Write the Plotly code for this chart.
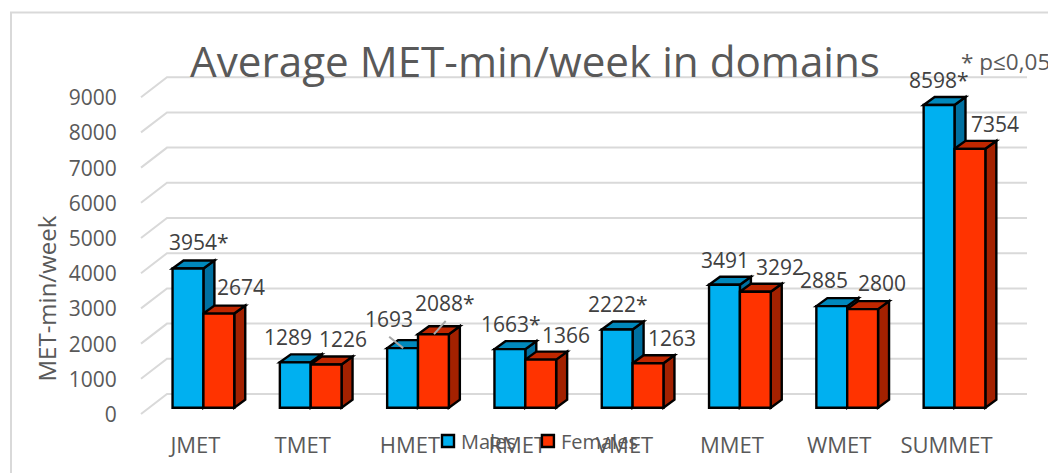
import plotly.graph_objects as go

categories = ["JMET", "TMET", "HMET", "RMET", "VMET", "MMET", "WMET", "SUMMET"]
males = [3954, 1289, 1693, 1663, 2222, 3491, 2885, 8598]
females = [2674, 1226, 2088, 1366, 1263, 3292, 2800, 7354]
male_labels = ["3954*", "1289", "1693", "1663*", "2222*", "3491", "2885", "8598*"]
female_labels = ["2674", "1226", "2088*", "1366", "1263", "3292", "2800", "7354"]
y_ticks = list(range(0, 10000, 1000))

# layout constants (pixels)
W, H = 1048, 473
L, R, T, B = 130, 1030, 60, 420
BASE_PX = 407.7
PX_PER_X = 107.3
CENTER0_PX = 203.4
PX_PER_Y = 0.0352
BAR_W_PX = 30.85
DEPTH_X, DEPTH_Y = 11, 8
GREY = "#595959"
FONT = "Open Sans"
EDGE = 2.4

ux = 1 / PX_PER_X      # data units per pixel (x)
uy = 1 / PX_PER_Y      # data units per pixel (y)
x_range = [(L - CENTER0_PX) * ux, (R - CENTER0_PX) * ux]
y_range = [(BASE_PX - B) * uy, (BASE_PX - T) * uy]
bw = BAR_W_PX * ux
dx, dy = DEPTH_X * ux, DEPTH_Y * uy

px = lambda v: (v - L) / (R - L)
py = lambda v: (B - v) / (B - T)

# label offsets from each bar's top centre (pixels)
male_off = [(11, -26.5), (-7, -25.6), (-13.4, -28.8), (1, -25), (0.4, -25.5), (0.7, -25), (-7.7, -26), (0, -25)]
female_off = [(22.2, -26.6), (16.7, -25.5), (12, -31), (25, -24.6), (23.7, -25), (24.4, -25), (19, -26.4), (25, -24.8)]

fig = go.Figure()
xs = list(range(len(categories)))
fig.add_bar(name="Males", x=xs, y=males, marker=dict(color="#00B0F0", line=dict(color="black", width=EDGE)))
fig.add_bar(name="Females", x=xs, y=females, marker=dict(color="#FF3300", line=dict(color="black", width=EDGE)))

shapes = []
# outer frame
shapes.append(dict(type="rect", xref="paper", yref="paper", x0=px(11), x1=px(1060), y0=py(12.5), y1=py(490),
                   line=dict(color="#D9D9D9", width=2), layer="below"))
# wall gridlines and oblique floor lines
wall_dy = 13.7 * uy
corner_dy = -6.3 * uy
x_left_corner = (141 - CENTER0_PX) * ux
x_left_wall = (167 - CENTER0_PX) * ux
x_right_wall = (1027 - CENTER0_PX) * ux
for t in y_ticks:
    path = f"M{x_left_corner},{t + corner_dy} L{x_left_wall},{t + wall_dy} L{x_right_wall},{t + wall_dy}"
    shapes.append(dict(type="path", xref="x", yref="y", path=path, line=dict(color="#D9D9D9", width=2), layer="below"))


def poly(points, fill):
    path = "M" + " L".join(f"{a},{b}" for a, b in points) + " Z"
    return dict(type="path", xref="x", yref="y", path=path, fillcolor=fill,
                line=dict(color="black", width=EDGE), layer="below")


for i in xs:
    for val, left, top_c, side_c in ((males[i], i - bw, "#0088BC", "#0070A0"), (females[i], i, "#C02700", "#A32100")):
        right = left + bw
        shapes.append(poly([(right, 0), (right + dx, dy), (right + dx, val + dy), (right, val)], side_c))
        shapes.append(poly([(left, val), (left + dx, val + dy), (right + dx, val + dy), (right, val)], top_c))

# leader lines for the HMET labels
hm = categories.index("HMET")
shapes.append(dict(type="line", xref="x", yref="y", layer="above", line=dict(color="#A6A6A6", width=2),
                   x0=hm - bw / 2 - 13.4 * ux, y0=males[hm] + 11.4 * uy, x1=hm - bw / 2 + 0.6 * ux, y1=males[hm]))
shapes.append(dict(type="line", xref="x", yref="y", layer="above", line=dict(color="#A6A6A6", width=2),
                   x0=hm + bw / 2 + 12.3 * ux, y0=females[hm] + 13.2 * uy, x1=hm + bw / 2 + 0.6 * ux, y1=females[hm]))

annotations = []
for i in xs:
    for val, txt, off, c in ((males[i], male_labels[i], male_off[i], i - bw / 2),
                             (females[i], female_labels[i], female_off[i], i + bw / 2)):
        annotations.append(dict(x=c, y=val, xref="x", yref="y", text=txt, showarrow=False,
                                xanchor="center", yanchor="middle", xshift=off[0], yshift=-off[1],
                                font=dict(family=FONT, size=21, color="#404040")))
annotations.append(dict(xref="paper", yref="paper", x=px(46), y=py(298.5), text="MET-min/week", textangle=-90,
                        showarrow=False, xanchor="center", yanchor="middle",
                        font=dict(family=FONT, size=24, color=GREY)))
annotations.append(dict(xref="paper", yref="paper", x=px(959), y=py(61), text="* p≤0,05",
                        showarrow=False, xanchor="left", yanchor="middle",
                        font=dict(family=FONT, size=22.5, color=GREY)))

fig.update_layout(
    width=W, height=H, autosize=False,
    margin=dict(l=L, r=W - R, t=T, b=H - B, pad=0),
    paper_bgcolor="white", plot_bgcolor="rgba(0,0,0,0)",
    barmode="group", bargap=1 - 2 * bw, bargroupgap=0,
    title=dict(text="Average MET-min/week in domains", x=535 / W, xanchor="center", xref="container",
               y=1 - 62 / H, yanchor="middle", yref="container", font=dict(family=FONT, size=42.2, color=GREY)),
    xaxis=dict(range=x_range, tickmode="array", tickvals=xs, ticktext=categories, showgrid=False, zeroline=False,
               showline=False, ticks="outside", ticklen=6, tickcolor="rgba(0,0,0,0)", ticklabelshift=-8,
               tickfont=dict(family=FONT, size=22, color=GREY)),
    yaxis=dict(range=y_range, tickmode="array", tickvals=y_ticks, showgrid=False, zeroline=False, showline=False,
               ticks="outside", ticklen=8, tickcolor="rgba(0,0,0,0)", ticklabelshift=7,
               tickfont=dict(family=FONT, size=21, color=GREY)),
    legend=dict(orientation="h", x=px(421), y=py(441), xanchor="left", yanchor="middle",
                bgcolor="rgba(0,0,0,0)", font=dict(family=FONT, size=20, color=GREY), traceorder="normal"),
    shapes=shapes, annotations=annotations,
)

fig.write_html(
    "out.html",
    config=dict(displayModeBar=False),
    post_script=(
        "document.body.style.margin='0';document.body.style.overflow='hidden';"
        "document.querySelectorAll('.legendsymbols').forEach(n=>n.setAttribute('transform','translate(7,0)'));"
    ),
)
